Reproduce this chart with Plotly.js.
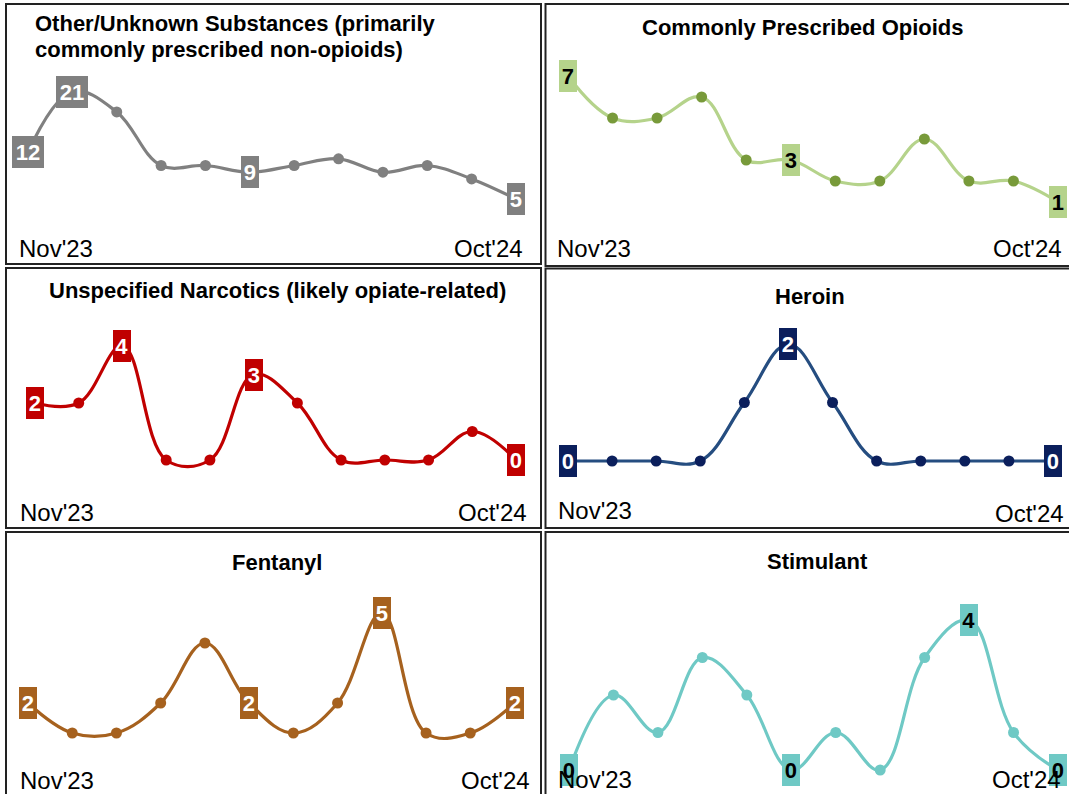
<!DOCTYPE html>
<html>
<head>
<meta charset="utf-8">
<script src="https://cdn.plot.ly/plotly-3.0.1.min.js"></script>
<style>
html,body{margin:0;padding:0;background:#fff;overflow:hidden;}
#chart{width:1069px;height:794px;}
</style>
</head>
<body>
<div id="chart"></div>
<script>
// ---- data ----
const months = ["Nov'23","Dec'23","Jan'24","Feb'24","Mar'24","Apr'24","May'24","Jun'24","Jul'24","Aug'24","Sep'24","Oct'24"];
const otherUnknown = [12,21,18,10,10,9,10,11,9,10,8,5];
const prescribedOpioids = [7,5,5,6,3,3,2,2,4,2,2,1];
const unspecifiedNarcotics = [2,2,4,0,0,3,2,0,0,0,1,0];
const heroin = [0,0,0,0,1,2,1,0,0,0,0,0];
const fentanyl = [2,1,1,2,4,2,1,2,5,1,1,2];
const stimulant = [0,2,1,3,2,0,1,0,3,4,1,0];
const panelTitles = [
  ["Other/Unknown Substances (primarily","commonly prescribed non-opioids)"],
  ["Commonly Prescribed Opioids"],
  ["Unspecified Narcotics (likely opiate-related)"],
  ["Heroin"],
  ["Fentanyl"],
  ["Stimulant"]
];
const seriesList = [otherUnknown, prescribedOpioids, unspecifiedNarcotics, heroin, fentanyl, stimulant];

// ---- layout / styles ----
const W = 1069, H = 794;
const panels = [
  {box:[6,4,541,264],     x0:28,  x11:516,  y0:232.5, s:6.7,
   line:'#808080', mk:'#808080', lab:'#808080', labTxt:'#ffffff',
   title:{x:33, ys:[24,50], anchor:'left'}, nov:[17,248], oct:[525,248]},
  {box:[545.5,4,1085,266], x0:568, x11:1058, y0:223, s:21,
   line:'#b5d38b', mk:'#789a3a', lab:'#b5d38b', labTxt:'#000000',
   title:{x:803, ys:[28], anchor:'center'}, nov:[555,248], oct:[1064,249]},
  {box:[6,268,541,528],   x0:35,  x11:516,  y0:460, s:28.5,
   line:'#c00000', mk:'#c00000', lab:'#c00000', labTxt:'#ffffff',
   title:{x:277, ys:[290], anchor:'center'}, nov:[18,512], oct:[529,512]},
  {box:[545.5,268.5,1085,528], x0:568, x11:1053, y0:461, s:58.5,
   line:'#254d80', mk:'#0b1f5c', lab:'#0b1f5c', labTxt:'#ffffff',
   title:{x:810, ys:[296], anchor:'center'}, nov:[556,510], oct:[1066,513]},
  {box:[6,532,541,810],   x0:28,  x11:514.5, y0:763, s:30,
   line:'#a6611e', mk:'#a6611e', lab:'#a6611e', labTxt:'#ffffff',
   title:{x:277, ys:[562], anchor:'center'}, nov:[18,780.5], oct:[532,780.5]},
  {box:[545.5,532,1085,810], x0:569, x11:1058, y0:770, s:37.5,
   line:'#6fc9c5', mk:'#6fc9c5', lab:'#6fc9c5', labTxt:'#000000',
   title:{x:817.5, ys:[561], anchor:'center'}, nov:[556,779.5], oct:[1063,779.5]}
];

const FONT = 'Liberation Sans, Arial, sans-serif';
const traces = [];
const layout = {
  width: W, height: H,
  margin: {l:0, r:0, t:0, b:0},
  paper_bgcolor: '#ffffff', plot_bgcolor: 'rgba(0,0,0,0)',
  showlegend: false,
  shapes: [], annotations: []
};
const px2x = p => p / W;
const px2y = p => 1 - p / H;
const clamp = v => Math.max(0, Math.min(1, v));

const labelAnns = [], textAnns = [];
panels.forEach((p, i) => {
  const data = seriesList[i];
  const n = data.length;
  const xs = data.map((_, k) => k);
  const ax = i === 0 ? '' : String(i + 1);
  const dx = (p.x11 - p.x0) / (n - 1);
  const bx0 = Math.max(0, p.box[0]), bx1 = Math.min(W, p.box[2]);
  const by0 = Math.max(0, p.box[1]), by1 = Math.min(H, p.box[3]);
  layout['xaxis' + ax] = {
    domain: [clamp(px2x(bx0)), clamp(px2x(bx1))],
    range: [(bx0 - p.x0) / dx, (bx1 - p.x0) / dx],
    visible: false, fixedrange: true, anchor: 'y' + ax
  };
  layout['yaxis' + ax] = {
    domain: [clamp(px2y(by1)), clamp(px2y(by0))],
    range: [(p.y0 - by1) / p.s, (p.y0 - by0) / p.s],
    visible: false, fixedrange: true, anchor: 'x' + ax
  };
  traces.push({
    type: 'scatter', mode: 'lines+markers',
    x: xs, y: data, xaxis: 'x' + ax, yaxis: 'y' + ax,
    line: {color: p.line, width: 3.2, shape: 'spline', smoothing: 1.1},
    marker: {color: p.mk, size: 11},
    cliponaxis: false, hoverinfo: 'skip'
  });
  layout.shapes.push({
    type: 'rect', xref: 'paper', yref: 'paper',
    x0: px2x(p.box[0]), x1: px2x(p.box[2]),
    y0: px2y(p.box[3]), y1: px2y(p.box[1]),
    line: {color: '#222222', width: 2}, fillcolor: 'rgba(0,0,0,0)', layer: 'below'
  });
  // labelled points: first, 6th month, maximum, last
  let maxIdx = 0;
  data.forEach((v, k) => { if (v > data[maxIdx]) maxIdx = k; });
  const labelIdx = Array.from(new Set([0, 5, maxIdx, n - 1]));
  labelIdx.forEach(k => {
    const txt = String(data[k]);
    labelAnns.push({
      xref: 'x' + ax, yref: 'y' + ax, x: k, y: data[k],
      text: '<b>' + txt + '</b>', showarrow: false,
      xanchor: 'center', yanchor: 'middle',
      font: {family: FONT, size: 22, color: p.labTxt},
      bgcolor: p.lab, borderpad: 0, borderwidth: 0,
      width: txt.length > 1 ? 32 : 17.5, height: 32, align: 'center', valign: 'middle'
    });
  });
  // title
  panelTitles[i].forEach((t, li) => {
    textAnns.push({
      xref: 'paper', yref: 'paper', x: px2x(p.title.x), y: px2y(p.title.ys[li]),
      text: '<b>' + t + '</b>', showarrow: false,
      xanchor: p.title.anchor, yanchor: 'middle',
      font: {family: FONT, size: 22, color: '#000000'}
    });
  });
  // first / last month labels
  textAnns.push({
    xref: 'paper', yref: 'paper', x: px2x(p.nov[0]), y: px2y(p.nov[1]),
    text: months[0], showarrow: false, xanchor: 'left', yanchor: 'middle',
    font: {family: FONT, size: 24, color: '#000000'}
  });
  textAnns.push({
    xref: 'paper', yref: 'paper', x: px2x(p.oct[0]), y: px2y(p.oct[1]),
    text: months[n - 1], showarrow: false, xanchor: 'right', yanchor: 'middle',
    font: {family: FONT, size: 24, color: '#000000'}
  });
});
layout.annotations = labelAnns.concat(textAnns);

Plotly.newPlot('chart', traces, layout, {displayModeBar: false, staticPlot: true});
</script>
</body>
</html>
